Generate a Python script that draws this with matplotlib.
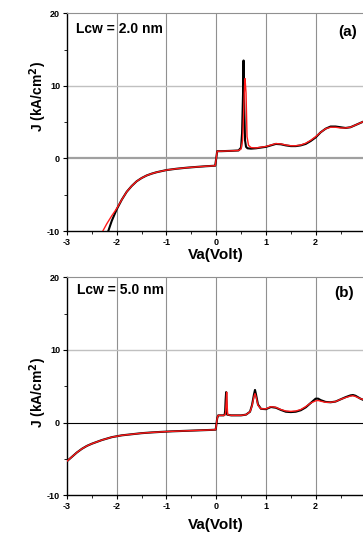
import matplotlib
matplotlib.use("Agg")
import matplotlib.pyplot as plt
from matplotlib.ticker import MultipleLocator

plt.rcParams['font.family'] = ['Liberation Sans', 'DejaVu Sans']
plt.rcParams['font.weight'] = 'bold'
plt.rcParams['axes.unicode_minus'] = False

# Panel (a): Lcw = 2.0 nm
va_a_black = [-2.17, -2.1, -2.0, -1.9, -1.8, -1.7, -1.6, -1.5, -1.4, -1.3, -1.2, -1.1, -1.0, -0.8, -0.6,
              -0.4, -0.2, -0.02, 0.02, 0.1, 0.3, 0.45, 0.5, 0.52, 0.54, 0.55, 0.56, 0.58, 0.6, 0.63,
              0.7, 0.8, 0.9, 1.0, 1.1, 1.2, 1.3, 1.4, 1.5, 1.6, 1.7, 1.8, 1.9, 2.0, 2.1, 2.2, 2.3,
              2.4, 2.5, 2.6, 2.7, 2.8, 2.9, 3.0]
j_a_black = [-10.0, -8.6, -7.0, -5.7, -4.6, -3.8, -3.15, -2.7, -2.35, -2.1, -1.9, -1.75, -1.6, -1.42, -1.28,
             -1.17, -1.07, -1.0, 1.0, 1.0, 1.05, 1.1, 1.5, 3.5, 9.0, 13.5, 8.0, 2.5, 1.6, 1.4,
             1.35, 1.4, 1.5, 1.6, 1.8, 2.0, 1.95, 1.8, 1.7, 1.7, 1.8, 2.0, 2.4, 2.9, 3.6, 4.1, 4.4,
             4.4, 4.3, 4.2, 4.3, 4.6, 4.9, 5.2]
va_a_red = [-2.28, -2.2, -2.1, -2.0, -1.9, -1.8, -1.7, -1.6, -1.5, -1.4, -1.3, -1.2, -1.1, -1.0, -0.8, -0.6,
            -0.4, -0.2, -0.02, 0.02, 0.1, 0.3, 0.45, 0.5, 0.53, 0.55, 0.57, 0.58, 0.6, 0.62, 0.65,
            0.7, 0.8, 0.9, 1.0, 1.1, 1.2, 1.3, 1.4, 1.5, 1.6, 1.7, 1.8, 1.9, 2.0, 2.1, 2.2, 2.3,
            2.4, 2.5, 2.6, 2.7, 2.8, 2.9, 3.0]
j_a_red = [-10.0, -9.0, -7.9, -6.9, -5.7, -4.6, -3.8, -3.15, -2.7, -2.35, -2.1, -1.9, -1.75, -1.6, -1.42, -1.28,
           -1.17, -1.07, -1.0, 1.0, 1.0, 1.05, 1.1, 1.3, 2.5, 6.0, 10.0, 11.0, 9.0, 3.0, 1.8,
           1.5, 1.45, 1.55, 1.65, 1.85, 2.05, 2.0, 1.85, 1.75, 1.75, 1.85, 2.1, 2.5, 3.0, 3.6, 4.1, 4.3,
           4.3, 4.2, 4.2, 4.3, 4.6, 4.9, 5.2]

# Panel (b): Lcw = 5.0 nm
va_b_black = [-3.0, -2.9, -2.8, -2.7, -2.6, -2.5, -2.3, -2.1, -1.9, -1.7, -1.5, -1.3, -1.1, -0.9, -0.7, -0.5,
              -0.3, -0.1, -0.01, 0.02, 0.04, 0.15, 0.17, 0.18, 0.19, 0.2, 0.21, 0.22, 0.3, 0.5, 0.6,
              0.68, 0.72, 0.76, 0.78, 0.8, 0.84, 0.9, 1.0, 1.1, 1.2, 1.3, 1.4, 1.5, 1.6, 1.7, 1.8,
              1.9, 2.0, 2.05, 2.1, 2.2, 2.3, 2.4, 2.5, 2.6, 2.7, 2.75, 2.8, 2.9, 3.0]
j_b_black = [-5.3, -4.7, -4.1, -3.6, -3.2, -2.9, -2.4, -2.0, -1.75, -1.6, -1.45, -1.35, -1.27, -1.2, -1.15, -1.1,
             -1.05, -1.0, -0.97, 0.6, 1.0, 1.0, 1.1, 1.6, 3.2, 4.2, 2.2, 1.1, 1.0, 1.0, 1.1,
             1.5, 2.4, 3.9, 4.5, 3.9, 2.5, 1.9, 1.85, 2.15, 2.05, 1.75, 1.5, 1.45, 1.5, 1.7, 2.1,
             2.7, 3.3, 3.3, 3.1, 2.85, 2.8, 2.9, 3.2, 3.5, 3.75, 3.8, 3.7, 3.3, 3.0]
va_b_red = [-3.0, -2.9, -2.8, -2.7, -2.6, -2.5, -2.3, -2.1, -1.9, -1.7, -1.5, -1.3, -1.1, -0.9, -0.7, -0.5,
            -0.3, -0.1, -0.01, 0.02, 0.04, 0.16, 0.18, 0.19, 0.2, 0.21, 0.22, 0.23, 0.3, 0.5, 0.6,
            0.68, 0.72, 0.76, 0.78, 0.8, 0.84, 0.9, 1.0, 1.1, 1.2, 1.3, 1.4, 1.5, 1.6, 1.7, 1.8,
            1.9, 2.0, 2.05, 2.1, 2.2, 2.3, 2.4, 2.5, 2.6, 2.7, 2.75, 2.8, 2.9, 3.0]
j_b_red = [-5.3, -4.7, -4.1, -3.6, -3.2, -2.9, -2.4, -2.0, -1.75, -1.6, -1.45, -1.35, -1.27, -1.2, -1.15, -1.1,
           -1.05, -1.0, -0.97, 0.6, 1.0, 1.0, 1.1, 1.5, 2.8, 4.2, 2.5, 1.1, 1.0, 1.0, 1.1,
           1.5, 2.3, 3.6, 4.0, 3.6, 2.4, 1.9, 1.9, 2.2, 2.1, 1.8, 1.6, 1.55, 1.6, 1.8, 2.2,
           2.7, 3.0, 3.05, 2.95, 2.8, 2.8, 2.9, 3.2, 3.45, 3.65, 3.7, 3.6, 3.3, 3.1]

labels = ["Lcw = 2.0 nm", "Lcw = 5.0 nm"]
panel_tags = ["(a)", "(b)"]
series = [(va_a_black, j_a_black, va_a_red, j_a_red),
          (va_b_black, j_b_black, va_b_red, j_b_red)]

fig = plt.figure(figsize=(3.63, 5.35), dpi=100)
positions = [[0.1846, 0.5682, 0.822, 0.4069], [0.1846, 0.0742, 0.822, 0.4075]]
zero_styles = [dict(color='#a0a0a0', lw=1.6), dict(color='black', lw=0.8)]
ylabel_y = [0.62, 0.47]
xlabel_y = [-0.078, -0.104]
text_pos = [(0.03, 0.93), (0.033, 0.94)]
tag_pos = [(0.94, 0.915), (0.93, 0.93)]

for i in range(2):
    ax = fig.add_axes(positions[i])
    xb, yb, xr, yr = series[i]
    ax.set_xlim(-3, 3)
    ax.set_ylim(-10, 20)
    for x in range(-2, 3):
        ax.axvline(x, color='#909090', lw=0.8, zorder=0)
    ax.axhline(10, color='#c0c0c0', lw=1.0, zorder=0)
    ax.axhline(0, zorder=1, **zero_styles[i])
    ax.plot(xb, yb, color='black', lw=1.5, zorder=3)
    ax.plot(xr, yr, color='#ff1a1a', lw=1.0, zorder=4)

    ax.xaxis.set_major_locator(MultipleLocator(1))
    ax.xaxis.set_minor_locator(MultipleLocator(0.5))
    ax.yaxis.set_major_locator(MultipleLocator(10))
    ax.yaxis.set_minor_locator(MultipleLocator(5))
    ax.tick_params(which='both', direction='out', labelsize=6.5, top=False, right=False)
    ax.tick_params(which='major', length=3, width=0.8, pad=2)
    ax.tick_params(which='minor', length=2, width=0.6)
    for lab in ax.get_xticklabels() + ax.get_yticklabels():
        lab.set_fontweight('bold')

    ax.spines['top'].set_color('#909090')
    ax.spines['right'].set_visible(False)
    ax.spines['left'].set_linewidth(1.0)
    ax.spines['bottom'].set_linewidth(1.0)

    ax.set_xlabel("Va(Volt)", fontsize=11, fontweight='bold')
    ax.xaxis.set_label_coords(0.5, xlabel_y[i])
    ax.set_ylabel("J (kA/cm$^2$)", fontsize=10, fontweight='bold')
    ax.yaxis.set_label_coords(-0.062, ylabel_y[i])
    ax.text(text_pos[i][0], text_pos[i][1], labels[i], transform=ax.transAxes, fontsize=10,
            fontweight='bold', va='center', ha='left')
    ax.text(tag_pos[i][0], tag_pos[i][1], panel_tags[i], transform=ax.transAxes, fontsize=11,
            fontweight='bold', va='center', ha='center')

fig.savefig("out.png", dpi=100)
